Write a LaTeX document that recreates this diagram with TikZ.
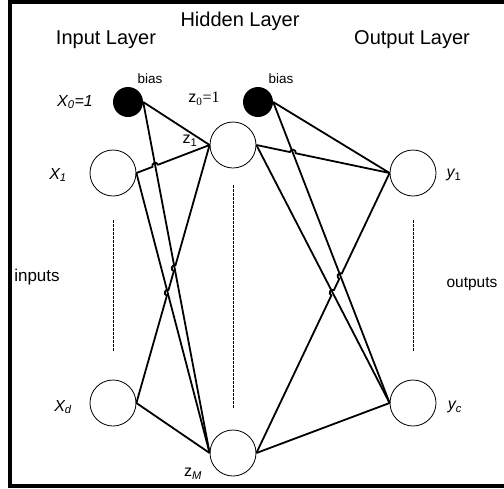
\documentclass[tikz,border=0pt]{standalone}
\usepackage{fontspec}
\setmainfont{Liberation Serif}
\setsansfont{Liberation Sans}
\usepackage{tikz}
\usetikzlibrary{calc}

\tikzset{
  unit/.style={circle,draw,line width=0.8pt,minimum size=46pt,inner sep=0pt},
  biasunit/.style={circle,fill=black,minimum size=30pt,inner sep=0pt},
  wire/.style={line width=1.8pt},
  guide/.style={line width=0.6pt,dash pattern=on 2.5pt off 1.5pt},
  title/.style={font=\sffamily\fontsize{20}{24}\selectfont},
  small/.style={font=\sffamily\fontsize{13.5}{15}\selectfont},
  lbl/.style={font=\sffamily\itshape\fontsize{16}{18}\selectfont},
}
% wire from #1 to #2 with a semicircular hop at each crossing in #3
\newcommand{\hopwire}[3]{%
  \draw[wire] let \p1=($(#2)-(#1)$), \n1={atan2(\y1,\x1)} in (#1)
    \foreach \c in {#3} { -- ($(\c)!3pt!(#1)$) arc[start angle=\n1+180,end angle=\n1,radius=3pt] }
    -- (#2);}

\begin{document}
\begin{tikzpicture}[x=1pt,y=1pt]
\useasboundingbox (0,0) rectangle (504,-488);
\clip (0,0) rectangle (504,-488);
% frame (right edge runs off the page)
\draw[line width=4pt] (10,-2) rectangle (520,-485.5);
% units
\node[biasunit] (b0) at (128,-102) {};
\node[biasunit] (b1) at (258,-102) {};
\node[unit] (x1) at (113,-173) {};
\node[unit] (xd) at (113,-403) {};
\node[unit] (z1) at (233,-145) {};
\node[unit] (zM) at (233,-453) {};
\node[unit] (y1) at (413,-173) {};
\node[unit] (yc) at (413,-403) {};
% crossings that get a hop
\coordinate (k1) at (intersection of b0.east--zM.west and x1.east--z1.west);
\coordinate (k2) at (intersection of b0.east--zM.west and xd.east--z1.west);
\coordinate (k3) at (intersection of x1.east--zM.west and xd.east--z1.west);
\coordinate (k4) at (intersection of b1.east--yc.west and z1.east--y1.west);
\coordinate (k5) at (intersection of z1.east--yc.west and zM.east--y1.west);
\coordinate (k6) at (intersection of b1.east--yc.west and zM.east--y1.west);
% weights
\foreach \a/\b in {b0/z1,b0/zM,x1/zM,xd/zM,b1/y1,b1/yc,z1/yc,zM/yc}
  \draw[wire] (\a.east) -- (\b.west);
\hopwire{x1.east}{z1.west}{k1}
\hopwire{xd.east}{z1.west}{k3,k2}
\hopwire{z1.east}{y1.west}{k4}
\hopwire{zM.east}{y1.west}{k5,k6}
% dotted columns
\draw[guide] (113,-220) -- (113,-352);
\draw[guide] (233,-185) -- (233,-408);
\draw[guide] (413,-220) -- (413,-352);
% labels
\node[title] (thid) at (240,-21) {Hidden Layer};
\node[title] (tin) at (106,-40) {Input Layer};
\node[title] (tout) at (412,-40) {Output Layer};
\node[small] (lb0) at (150,-79) {bias};
\node[small] (lb1) at (281,-79) {bias};
\node[lbl] (lx0) at (75,-102) {X\textsubscript{0}=1};
\node[font=\fontsize{16}{18}\selectfont] (lz0) at (204,-99) {{\sffamily z}\textsubscript{0}=1};
\node[font=\sffamily\fontsize{16}{18}\selectfont] (lz1) at (190,-141) {z\textsubscript{1}};
\node[lbl] (lx1) at (58,-175) {X\textsubscript{1}};
\node[lbl] (lxd) at (63,-407) {X\textsubscript{d}};
\node[lbl] (ly1) at (454,-175) {y\textsubscript{\upshape 1}};
\node[lbl] (lyc) at (455,-407) {y\textsubscript{c}};
\node[font=\sffamily\fontsize{16}{18}\selectfont] (lzM) at (193,-474) {z\textsubscript{\itshape M}};
\node[font=\sffamily\fontsize{17}{19}\selectfont] (lin) at (37,-277) {inputs};
\node[font=\sffamily\fontsize{15.5}{18}\selectfont] (lout) at (472,-284) {outputs};
\end{tikzpicture}
\end{document}
